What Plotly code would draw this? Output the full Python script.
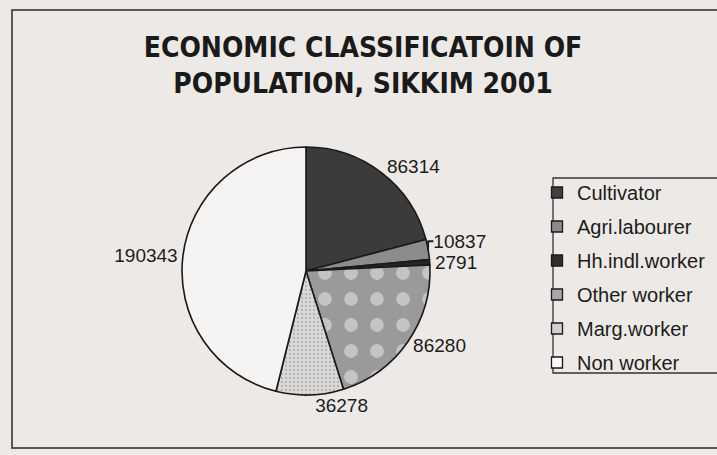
import plotly.graph_objects as go

# Economic classification of population, Sikkim 2001
categories = ["Cultivator", "Agri.labourer", "Hh.indl.worker",
              "Other worker", "Marg.worker", "Non worker"]
population = [86314, 10837, 2791, 86280, 36278, 190343]

# slice styling (fill, pattern)
fills = ["#3b3b3b", "#8c8c8c", "#262626", "#9a9a9a", "#dcdad8", "#f6f4f2"]
pattern_shapes = ["", "", "", ".", ".", ""]
pattern_fg = ["#3b3b3b", "#8c8c8c", "#262626", "#eeeeee", "#8a8a8a", "#f6f4f2"]
pattern_size = [8, 8, 8, 26, 4, 8]
pattern_solid = [0.3, 0.3, 0.3, 0.22, 0.25, 0.3]
legend_fills = ["#404040", "#8a8a8a", "#303030", "#a8a8a8", "#cfcfcf", "#f8f8f8"]

PAPER = "#ece9e6"
W, H = 717, 455

fig = go.Figure()

fig.add_trace(go.Pie(
    labels=categories,
    values=population,
    sort=False,
    direction="clockwise",
    rotation=0,
    textposition="outside",
    texttemplate="%{value:.0f}",
    textfont=dict(family="Liberation Sans, Arial", size=19, color="#1c1c1c"),
    marker=dict(
        colors=fills,
        line=dict(color="#1a1a1a", width=1.6),
        pattern=dict(shape=pattern_shapes, fgcolor=pattern_fg, bgcolor=fills,
                     size=pattern_size, solidity=pattern_solid, fillmode="overlay"),
    ),
    domain=dict(x=[182 / W, 430 / W], y=[60 / H, 308 / H]),
    showlegend=False,
    hoverinfo="label+value",
))

# legend entries, one group per category so the rows can be spaced apart
for name, col in zip(categories, legend_fills):
    fig.add_trace(go.Scatter(
        x=[None], y=[None], mode="markers", name=name, legendgroup=name,
        marker=dict(symbol="square", size=11, color=col,
                    line=dict(color="#1a1a1a", width=1.3)),
    ))

fig.update_layout(
    width=W, height=H,
    margin=dict(l=0, r=0, t=0, b=0),
    paper_bgcolor=PAPER, plot_bgcolor=PAPER,
    xaxis=dict(visible=False), yaxis=dict(visible=False),
    title=dict(
        text="ECONOMIC CLASSIFICATOIN OF<br>POPULATION, SIKKIM 2001",
        font=dict(family="DejaVu Sans Condensed, Liberation Sans",
                  size=28, color="#1a1a1a", weight="bold"),
        x=363 / W, xanchor="center", xref="container",
        y=1 - 57 / H, yanchor="top", yref="container",
    ),
    legend=dict(
        x=537 / W, xanchor="left", y=1 - 173 / H, yanchor="top",
        font=dict(family="Liberation Sans, Arial", size=20, color="#1c1c1c"),
        bgcolor="rgba(0,0,0,0)", borderwidth=0,
        traceorder="grouped", tracegroupgap=5, itemwidth=30,
    ),
    shapes=[
        # outer frame
        dict(type="rect", xref="paper", yref="paper",
             x0=12 / W, x1=1.02, y0=1 - 448 / H, y1=1 - 10 / H,
             line=dict(color="#2a2a2a", width=1.5)),
        # legend box
        dict(type="rect", xref="paper", yref="paper",
             x0=553 / W, x1=1.02, y0=1 - 373 / H, y1=1 - 178 / H,
             line=dict(color="#333333", width=1.3)),
    ],
)

fig.write_html("out.html")
